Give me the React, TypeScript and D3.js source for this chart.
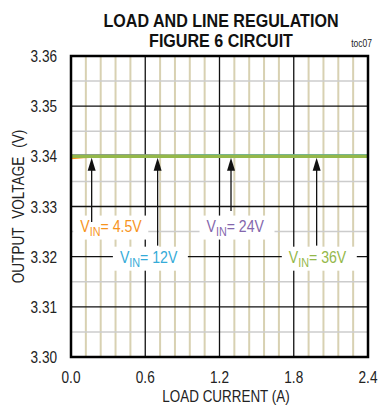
import React, { useEffect } from "react";
import * as d3 from "d3";

// Load current (A) sample points
const loadCurrent = [0, 0.1, 0.2, 0.4, 0.6, 0.8, 1.0, 1.2, 1.4, 1.6, 1.8, 2.0, 2.2, 2.4];
// Output voltage (V) for each input voltage
const vout45 = [3.3397, 3.3399, 3.34, 3.34, 3.34, 3.34, 3.34, 3.34, 3.34, 3.34, 3.34, 3.34, 3.34, 3.34];
const vout12 = [3.34, 3.34, 3.34, 3.34, 3.34, 3.34, 3.3401, 3.3401, 3.3401, 3.3401, 3.3401, 3.3401, 3.3401, 3.3401];
const vout24 = [3.3401, 3.3401, 3.3401, 3.3401, 3.3401, 3.34, 3.34, 3.34, 3.34, 3.34, 3.34, 3.34, 3.34, 3.34];
const vout36 = [3.34, 3.34, 3.34, 3.34, 3.34, 3.34, 3.34, 3.34, 3.34, 3.34, 3.34, 3.34, 3.34, 3.34];

const seriesNames = ["4.5V", "12V", "24V", "36V"];
const seriesColors = ["#f7941d", "#35abd8", "#8466ad", "#94b84a"];

// Annotation arrows: x position (A), tail voltage
const arrowX = [0.167, 0.70, 1.293, 1.985];
const arrowTail = [3.3269, 3.3222, 3.3291, 3.3222];
// Label anchor (A, V) per series
const labelX = [0.075, 0.395, 1.095, 1.76];
const labelY = [3.3250, 3.3188, 3.3250, 3.3188];

const xTicks = [0, 0.6, 1.2, 1.8, 2.4];
const yTicks = [3.30, 3.31, 3.32, 3.33, 3.34, 3.35, 3.36];

const W = 380;
const H = 409;
const M = { left: 71, right: 12, top: 56, bottom: 52 };
const FONT = "'Liberation Sans', Arial, sans-serif";

// Text condensed horizontally around its anchor point
function CText(props: {
  x: number;
  y: number;
  s: number;
  rotate?: number;
  children: React.ReactNode;
  [k: string]: any;
}) {
  const { x, y, s, rotate, children, ...rest } = props;
  const t = `translate(${x},${y})` + (rotate ? ` rotate(${rotate})` : "") + ` scale(${s},1)`;
  return (
    <text transform={t} {...rest}>
      {children}
    </text>
  );
}

export default function App() {
  useEffect(() => {
    document.body.style.margin = "0";
  }, []);

  const x = d3.scaleLinear().domain([0, 2.4]).range([M.left, W - M.right]);
  const y = d3.scaleLinear().domain([3.30, 3.36]).range([H - M.bottom, M.top]);

  const minorX = d3.range(0, 2.4001, 0.12).filter((v) => Math.abs(v / 0.6 - Math.round(v / 0.6)) > 1e-6);
  const minorY = d3.range(3.305, 3.36, 0.01);

  const line = d3
    .line<number>()
    .x((_, i) => x(loadCurrent[i]))
    .y((d) => y(d));

  const series = [vout45, vout12, vout24, vout36];
  const drawOrder = [0, 2, 1, 3];

  return (
    <svg width={W} height={H} style={{ display: "block", background: "#fff" }} fontFamily={FONT}>
      {/* title */}
      <CText x={221} y={27} s={0.87} textAnchor="middle" fontSize={18.5} fontWeight="bold" fill="#111">
        LOAD AND LINE REGULATION
      </CText>
      <CText x={221} y={46.5} s={0.87} textAnchor="middle" fontSize={18.5} fontWeight="bold" fill="#111">
        FIGURE 6 CIRCUIT
      </CText>
      <CText x={372} y={47} s={0.85} textAnchor="end" fontSize={10} fill="#222">
        toc07
      </CText>

      {/* grid */}
      {minorX.map((v) => (
        <line key={"mx" + v} x1={x(v)} x2={x(v)} y1={y(3.30)} y2={y(3.36)} stroke="#d8d1b2" strokeWidth={2} />
      ))}
      {minorY.map((v) => (
        <line key={"my" + v} x1={x(0)} x2={x(2.4)} y1={y(v)} y2={y(v)} stroke="#cccccc" strokeWidth={1.5} />
      ))}
      {xTicks.slice(1, -1).map((v) => (
        <line key={"gx" + v} x1={x(v)} x2={x(v)} y1={y(3.30)} y2={y(3.36)} stroke="#111" strokeWidth={1.3} />
      ))}
      {yTicks.slice(1, -1).map((v) => (
        <line key={"gy" + v} x1={x(0)} x2={x(2.4)} y1={y(v)} y2={y(v)} stroke="#111" strokeWidth={1.3} />
      ))}

      {/* label backgrounds */}
      {seriesNames.map((n, i) => (
        <rect
          key={"bg" + n}
          x={x(labelX[i]) - 7}
          y={y(labelY[i]) - 16}
          width={75}
          height={24}
          fill="#fff"
        />
      ))}

      {/* data */}
      {drawOrder.map((i) => (
        <path
          key={"s" + i}
          d={line(series[i]) || ""}
          fill="none"
          stroke={seriesColors[i]}
          strokeWidth={i === 3 ? 3.5 : 3}
        />
      ))}

      {/* annotation arrows */}
      {arrowX.map((a, i) => {
        const px = x(a);
        const tip = y(3.3397);
        return (
          <g key={"ar" + i}>
            <line x1={px} x2={px} y1={y(arrowTail[i])} y2={tip + 8} stroke="#111" strokeWidth={1.3} />
            <path d={`M${px},${tip} L${px - 4},${tip + 13} L${px + 4},${tip + 13} Z`} fill="#111" />
          </g>
        );
      })}

      {/* labels */}
      {seriesNames.map((n, i) => (
        <CText key={"lb" + n} x={x(labelX[i])} y={y(labelY[i])} s={0.83} fontSize={17} fill={seriesColors[i]}>
          <tspan>V</tspan>
          <tspan dy={4} fontSize={13}>
            IN
          </tspan>
          <tspan dy={-4}>{"= " + n}</tspan>
        </CText>
      ))}

      {/* frame */}
      <rect
        x={x(0)}
        y={y(3.36)}
        width={x(2.4) - x(0)}
        height={y(3.30) - y(3.36)}
        fill="none"
        stroke="#000"
        strokeWidth={2.5}
      />

      {/* axes tick labels */}
      {yTicks.map((v) => (
        <CText key={"yt" + v} x={57} y={y(v) + 6} s={0.85} textAnchor="end" fontSize={16} fill="#222">
          {v.toFixed(2)}
        </CText>
      ))}
      {xTicks.map((v) => (
        <CText key={"xt" + v} x={x(v)} y={383} s={0.85} textAnchor="middle" fontSize={16} fill="#222">
          {v.toFixed(1)}
        </CText>
      ))}

      <CText x={226} y={401.5} s={0.84} textAnchor="middle" fontSize={16} fill="#222">
        LOAD CURRENT (A)
      </CText>
      <CText
        x={24}
        y={(y(3.30) + y(3.36)) / 2}
        rotate={-90}
        s={0.85}
        textAnchor="middle"
        fontSize={16}
        wordSpacing={6}
        fill="#222"
      >
        OUTPUT VOLTAGE (V)
      </CText>
    </svg>
  );
}
